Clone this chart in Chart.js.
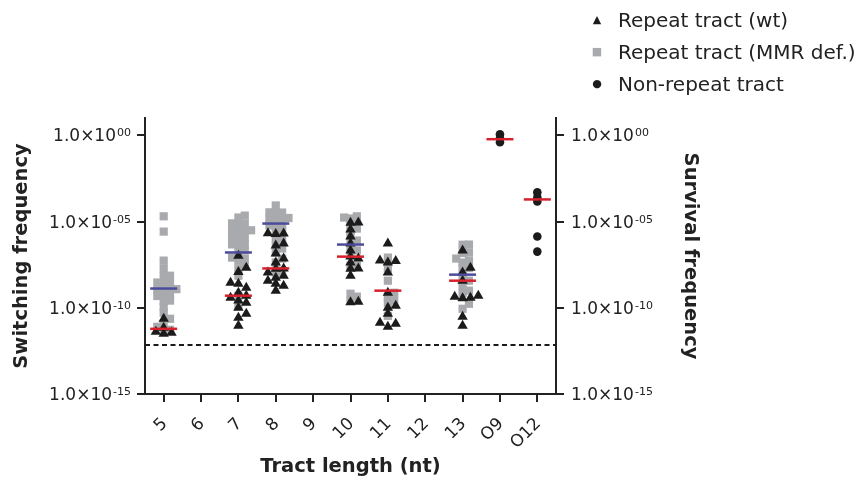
<!DOCTYPE html>
<html>
<head>
<meta charset="utf-8">
<script src="https://cdn.jsdelivr.net/npm/chart.js@4.4.1/dist/chart.umd.min.js"></script>
<style>
  body { margin: 0; background: #fff; }
  #wrap { position: relative; width: 859px; height: 482px; }
  #legend { position: absolute; left: 584px; top: 4px; font: 20px "DejaVu Sans"; color: #222; }
  #legend .row { height: 32px; line-height: 32px; white-space: nowrap; }
  #legend .mk { display: inline-block; width: 26px; text-align: center; margin-right: 8px; font-size: 11px; vertical-align: top; }
</style>
</head>
<body>
<div id="wrap">
  <canvas id="chart" width="859" height="482"></canvas>
  <div id="legend"></div>
</div>
<script>
// categories and tick labels
var categories = ['5', '6', '7', '8', '9', '10', '11', '12', '13', 'O9', 'O12'];
var tickValues = [1e-15, 1e-10, 1e-5, 1];
var tickExponents = ['-15', '-10', '-05', '00'];
var legendLabels = ['Repeat tract (wt)', 'Repeat tract (MMR def.)', 'Non-repeat tract'];

// repeat tract, wild type (triangles)
var wt5 = [2.3e-11, 6.9e-12, 3.1e-12, 3.5e-12, 4e-12];
var wt7 = [1.05e-7, 1.2e-8, 2.1e-8, 2.8e-9, 2.5e-9, 1.45e-9, 7.4e-10, 3.8e-10, 2.6e-10, 1.95e-10, 1e-10, 4.5e-11, 2.6e-11, 9e-12, 5e-10];
var wt8 = [2.1e-6, 1.9e-6, 2e-6, 5.3e-7, 4e-7, 1.4e-7, 7.1e-8, 4.2e-8, 1.9e-8, 1.8e-8, 1.1e-8, 7.2e-9, 5.5e-9, 2.5e-9, 3.7e-9, 1.9e-9, 9.8e-10];
var wt10 = [8.7e-6, 8.5e-6, 3.4e-6, 1.35e-6, 5.3e-7, 2.1e-7, 9.2e-8, 7.1e-8, 4.2e-8, 1.9e-8, 1.8e-8, 7.2e-9, 2.2e-10, 2.1e-10];
var wt11 = [5.3e-7, 5.4e-8, 5.2e-8, 4.2e-8, 1.1e-8, 7.4e-10, 1.3e-10, 1e-10, 4.5e-11, 1.35e-11, 1.2e-11, 7.9e-12];
var wt13 = [2.1e-7, 2.1e-8, 1.1e-8, 3.7e-9, 3.8e-10, 4.4e-10, 5e-10, 3.6e-10, 3e-11, 9e-12];

// repeat tract, MMR deficient (squares)
var mmr5 = [2e-5, 2.6e-6, 5.4e-8, 1.9e-8, 7.2e-9, 6.8e-9, 2.8e-9, 2.9e-9, 2.7e-9, 1.1e-9, 1.2e-9, 1e-9, 1.1e-9, 5e-10, 5.2e-10, 4.8e-10, 2.6e-10, 2.5e-10, 1.1e-10, 5.1e-11, 2.3e-11, 1.2e-11, 5.3e-12, 5e-12, 7.9e-12];
var mmr7 = [2.2e-5, 1.7e-5, 7.6e-6, 7.4e-6, 7.8e-6, 3e-6, 3.1e-6, 2.9e-6, 3e-6, 1.2e-6, 1.25e-6, 1.15e-6, 4.6e-7, 4.5e-7, 4.7e-7, 2.1e-7, 2e-7, 8.1e-8, 7.1e-8, 5.4e-8, 2.8e-8, 1.9e-8, 7.2e-9, 5e-10, 1.3e-10];
var mmr8 = [8.5e-5, 3.3e-5, 3.4e-5, 3.2e-5, 1.5e-5, 1.6e-5, 1.4e-5, 1.5e-5, 5.9e-6, 6e-6, 5.8e-6, 2.6e-6, 2.7e-6, 1e-6, 1.05e-6, 4e-7, 2.7e-7, 1.6e-7, 7.1e-8, 4.2e-8, 1.4e-8, 1.1e-8];
var mmr10 = [2e-5, 1.7e-5, 1.5e-5, 8.7e-6, 6.7e-6, 3.9e-6, 3e-6, 1.5e-6, 7.9e-7, 6e-7, 2.1e-7, 2e-7, 2.8e-8, 2.7e-8, 6.5e-10, 4.4e-10, 2.6e-10];
var mmr11 = [8.1e-8, 1.9e-8, 3.7e-9, 7.4e-10, 4.4e-10, 2.6e-10, 1.95e-10, 3.4e-11];
var mmr13 = [4.6e-7, 4.5e-7, 1.6e-7, 1.5e-7, 5.4e-8, 7.1e-8, 4.2e-8, 1.9e-8, 2e-8, 7.2e-9, 3.7e-9, 1.9e-9, 9.8e-10, 7.4e-10, 1.7e-10, 8.7e-11];

// non-repeat tract (circles)
var nonO9 = [1.15, 0.67, 0.39];
var nonO12 = [4.9e-4, 2.5e-4, 1.45e-4, 1.35e-6, 1.8e-7];

// medians per category (red = wt / non-repeat, blue = MMR def.)
var wtMedian = [6e-12, null, 5e-10, 1.9e-8, null, 9.2e-8, 9.8e-10, null, 3.7e-9, 0.59, 1.9e-4];
var mmrMedian = [1.3e-9, null, 1.6e-7, 7.6e-6, null, 4.6e-7, null, null, 8.3e-9, null, null];

var detectionLimit = 7e-13;

var wtByCat = [wt5, null, wt7, wt8, null, wt10, wt11, null, wt13, null, null];
var mmrByCat = [mmr5, null, mmr7, mmr8, null, mmr10, mmr11, null, mmr13, null, null];
var nonByCat = [null, null, null, null, null, null, null, null, null, nonO9, nonO12];

var xMin = -0.5, xMax = categories.length - 0.5;

// simple beeswarm: move a point sideways when it would sit on another one
function swarm(byCat, step, h) {
  var out = [];
  byCat.forEach(function (vals, i) {
    if (!vals) return;
    var placed = [];
    vals.slice().sort(function (a, b) { return a - b; }).forEach(function (v) {
      var ly = Math.log10(v), best = 0, bestHits = 1e9;
      for (var k = 0; k <= 4; k++) {
        var dx = (k % 2 ? 1 : -1) * Math.ceil(k / 2) * step;
        var hits = placed.filter(function (p) {
          return Math.abs(p.dx - dx) < step * 0.99 && Math.abs(p.ly - ly) < h;
        }).length;
        if (hits < bestHits) { bestHits = hits; best = dx; }
        if (hits === 0) break;
      }
      placed.push({ dx: best, ly: ly });
      out.push({ x: i + best, y: v });
    });
  });
  return out;
}

function stacked(byCat) {
  var out = [];
  byCat.forEach(function (vals, i) {
    if (!vals) return;
    vals.forEach(function (v) { out.push({ x: i, y: v }); });
  });
  return out;
}

function medianPoints(arr) {
  return arr.map(function (v, i) { return { x: i, y: v }; })
    .filter(function (p) { return p.y !== null; });
}

var black = '#1b1b1b';
var gray = '#a8aaad';
var red = '#d6202b';
var blue = '#4c4c9c';

var yLabelPlugin = {
  id: 'yLabels',
  afterDraw: function (chart) {
    var ctx = chart.ctx;
    ['y', 'y2'].forEach(function (id) {
      var s = chart.scales[id];
      tickValues.forEach(function (v, i) {
        var py = s.getPixelForValue(v);
        var base = '1.0\u00d710', sup = tickExponents[i];
        ctx.save();
        ctx.fillStyle = '#222';
        ctx.textBaseline = 'alphabetic';
        ctx.font = '17px "DejaVu Sans"';
        var bw = ctx.measureText(base).width;
        ctx.font = '11px "DejaVu Sans"';
        var sw = ctx.measureText(sup).width;
        var x0 = id === 'y' ? s.right - 15 - bw - sw : s.left + 15;
        ctx.font = '17px "DejaVu Sans"';
        ctx.fillText(base, x0, py + 6);
        ctx.font = '11px "DejaVu Sans"';
        ctx.fillText(sup, x0 + bw + 1, py + 1);
        ctx.restore();
      });
    });
  }
};

var chart = new Chart(document.getElementById('chart'), {
  type: 'scatter',
  data: {
    datasets: [
      {
        label: 'wt median', data: medianPoints(wtMedian),
        pointStyle: 'line', pointRadius: 13.5, pointBorderWidth: 2.5,
        pointBorderColor: red, pointBackgroundColor: red
      },
      {
        label: 'MMR median', data: medianPoints(mmrMedian),
        pointStyle: 'line', pointRadius: 13.5, pointBorderWidth: 2.5,
        pointBorderColor: blue, pointBackgroundColor: blue
      },
      {
        label: legendLabels[0], data: swarm(wtByCat, 0.21, 0.32),
        pointStyle: 'triangle', pointRadius: 6, pointBorderWidth: 0,
        pointBackgroundColor: black
      },
      {
        label: legendLabels[2], data: stacked(nonByCat),
        pointStyle: 'circle', pointRadius: 4.3, pointBorderWidth: 0,
        pointBackgroundColor: black
      },
      {
        label: legendLabels[1], data: swarm(mmrByCat, 0.17, 0.3),
        pointStyle: 'rect', pointRadius: 5.8, pointBorderWidth: 0,
        pointBackgroundColor: gray
      },
      {
        label: 'limit', data: [{ x: xMin, y: detectionLimit }, { x: xMax, y: detectionLimit }],
        showLine: true, pointRadius: 0, borderColor: black, borderWidth: 2,
        borderDash: [5, 3.5]
      }
    ]
  },
  options: {
    responsive: false,
    animation: false,
    events: [],
    layout: { padding: { top: 118, right: 150, left: 0, bottom: 0 } },
    plugins: { legend: { display: false }, tooltip: { enabled: false } },
    scales: {
      x: {
        type: 'linear', min: xMin, max: xMax,
        afterBuildTicks: function (s) {
          s.ticks = categories.map(function (c, i) { return { value: i }; });
        },
        afterFit: function (s) { s.height = 88; },
        grid: { drawOnChartArea: false, drawTicks: true, tickLength: 8, color: '#222', lineWidth: 2 },
        border: { display: true, color: '#222', width: 2 },
        ticks: {
          minRotation: 45, maxRotation: 45, autoSkip: false, padding: 12, labelOffset: 1,
          color: '#222', font: { family: 'DejaVu Sans', size: 17 },
          callback: function (v) { return categories[Math.round(v)]; }
        },
        title: {
          display: true, text: 'Tract length (nt)', color: '#222',
          font: { family: 'DejaVu Sans', size: 19.5, weight: 'bold' },
          padding: { top: 0, bottom: 3 }
        }
      },
      y: {
        type: 'logarithmic', position: 'left', min: 1e-15, max: 10,
        afterBuildTicks: function (s) {
          s.ticks = tickValues.map(function (v) { return { value: v }; });
        },
        afterFit: function (s) { s.width = 145; },
        grid: { drawOnChartArea: false, drawTicks: true, tickLength: 8, color: '#222', lineWidth: 2 },
        border: { display: true, color: '#222', width: 2 },
        ticks: { callback: function () { return ''; } },
        title: {
          display: true, text: 'Switching frequency', color: '#222',
          font: { family: 'DejaVu Sans', size: 19.5, weight: 'bold' },
          padding: { top: 10, bottom: 0 }
        }
      },
      y2: {
        type: 'logarithmic', position: 'right', min: 1e-15, max: 10,
        afterBuildTicks: function (s) {
          s.ticks = tickValues.map(function (v) { return { value: v }; });
        },
        afterFit: function (s) { s.width = 153; },
        grid: { drawOnChartArea: false, drawTicks: true, tickLength: 8, color: '#222', lineWidth: 2 },
        border: { display: true, color: '#222', width: 2 },
        ticks: { callback: function () { return ''; } },
        title: {
          display: true, text: 'Survival frequency', color: '#222',
          font: { family: 'DejaVu Sans', size: 19.5, weight: 'bold' },
          padding: { top: 7, bottom: 0 }
        }
      }
    }
  },
  plugins: [yLabelPlugin]
});

// legend built from the dataset labels
var markers = [
  { ch: '\u25b2', color: black },
  { ch: '\u25a0', color: gray },
  { ch: '\u25cf', color: black }
];
var legend = document.getElementById('legend');
legendLabels.forEach(function (txt, i) {
  var row = document.createElement('div');
  row.className = 'row';
  var mk = document.createElement('span');
  mk.className = 'mk';
  mk.style.color = markers[i].color;
  mk.textContent = markers[i].ch;
  row.appendChild(mk);
  row.appendChild(document.createTextNode(txt));
  legend.appendChild(row);
});
</script>
</body>
</html>
